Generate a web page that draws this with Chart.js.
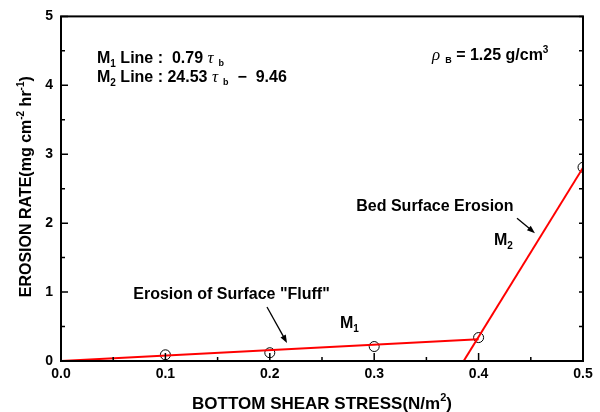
<!DOCTYPE html>
<html>
<head>
<meta charset="utf-8">
<script src="https://cdn.jsdelivr.net/npm/chart.js@4/dist/chart.umd.min.js"></script>
<style>
  html, body { margin: 0; padding: 0; background: #fff; }
  #wrap { width: 600px; height: 412px; }
</style>
</head>
<body>
<div id="wrap"><canvas id="c" width="600" height="412"></canvas></div>
<script>
// Measured erosion rates against bottom shear stress
const shearStress = [0.1, 0.2, 0.3, 0.4, 0.5];
const erosionRate = [0.09, 0.12, 0.21, 0.34, 2.81];

// Fitted lines: M1 = 0.79 τb,  M2 = 24.53 τb − 9.46
const m1Stress = [0.0, 0.4];
const m1Rate = [0.0, 0.316];
const m2Stress = [0.3857, 0.5];
const m2Rate = [0.0, 2.805];

// Axis tick values
const xTicks = [0.0, 0.1, 0.2, 0.3, 0.4, 0.5];
const xMinorTicks = [0.05, 0.15, 0.25, 0.35, 0.45];
const yTicks = [0, 1, 2, 3, 4, 5];
const yMinorTicks = [0.5, 1.5, 2.5, 3.5, 4.5];

const SANS = '"Liberation Sans", Arial, Helvetica, sans-serif';
const SERIF = '"Liberation Serif", "Times New Roman", serif';
const fB = (s) => `bold ${s}px ${SANS}`;
const fG = (s) => `italic ${s}px ${SERIF}`;

const toPts = (xs, ys) => xs.map((x, i) => ({ x, y: ys[i] }));

// Draw a row of text runs (for sub/superscripts)
function drawRuns(ctx, runs, x, y, align) {
  let total = 0;
  runs.forEach(r => { ctx.font = r.font; r.w = ctx.measureText(r.text).width; total += r.w; });
  let cx = align === 'center' ? x - total / 2 : x;
  ctx.textAlign = 'left';
  ctx.textBaseline = 'alphabetic';
  runs.forEach(r => {
    ctx.font = r.font;
    ctx.fillText(r.text, cx, y + (r.dy || 0));
    cx += r.w;
  });
}

function drawArrow(ctx, x1, y1, x2, y2) {
  const ang = Math.atan2(y2 - y1, x2 - x1);
  const head = 8, half = 3;
  ctx.strokeStyle = '#000';
  ctx.fillStyle = '#000';
  ctx.lineWidth = 1.3;
  ctx.beginPath();
  ctx.moveTo(x1, y1);
  ctx.lineTo(x2 - Math.cos(ang) * head * 0.8, y2 - Math.sin(ang) * head * 0.8);
  ctx.stroke();
  ctx.beginPath();
  ctx.moveTo(x2, y2);
  ctx.lineTo(x2 - head * Math.cos(ang) + half * Math.sin(ang), y2 - head * Math.sin(ang) - half * Math.cos(ang));
  ctx.lineTo(x2 - head * Math.cos(ang) - half * Math.sin(ang), y2 - head * Math.sin(ang) + half * Math.cos(ang));
  ctx.closePath();
  ctx.fill();
}

// Frame, inward ticks, annotations and axis titles
const decorPlugin = {
  id: 'decor',
  afterDatasetsDraw(chart) {
    const { ctx, chartArea: a, scales: { x, y } } = chart;
    ctx.save();
    ctx.strokeStyle = '#000';
    ctx.lineWidth = 2;
    ctx.strokeRect(a.left, a.top, a.right - a.left, a.bottom - a.top);

    ctx.lineWidth = 1.5;
    ctx.beginPath();
    // left axis: major and minor ticks pointing inward
    yTicks.forEach(v => { const p = y.getPixelForValue(v); ctx.moveTo(a.left, p); ctx.lineTo(a.left + 7, p); });
    yMinorTicks.forEach(v => { const p = y.getPixelForValue(v); ctx.moveTo(a.left, p); ctx.lineTo(a.left + 4, p); });
    // right axis
    yTicks.concat(yMinorTicks).forEach(v => { const p = y.getPixelForValue(v); ctx.moveTo(a.right, p); ctx.lineTo(a.right - 4, p); });
    // bottom axis
    xTicks.forEach(v => { const p = x.getPixelForValue(v); ctx.moveTo(p, a.bottom); ctx.lineTo(p, a.bottom - 8); });
    xMinorTicks.forEach(v => { const p = x.getPixelForValue(v); ctx.moveTo(p, a.bottom); ctx.lineTo(p, a.bottom - 4); });
    ctx.stroke();

    ctx.fillStyle = '#000';
    const X = v => x.getPixelForValue(v), Y = v => y.getPixelForValue(v);

    // fit equations
    drawRuns(ctx, [
      { text: 'M', font: fB(16) },
      { text: '1', font: fB(10), dy: 4 },
      { text: ' Line :  0.79 ', font: fB(16) },
      { text: 'τ', font: fG(17) },
      { text: '  b', font: fB(9), dy: 3 }
    ], X(0.0345), Y(4.319), 'left');
    drawRuns(ctx, [
      { text: 'M', font: fB(16) },
      { text: '2', font: fB(10), dy: 4 },
      { text: ' Line : 24.53 ', font: fB(16) },
      { text: 'τ', font: fG(17) },
      { text: '  b', font: fB(9), dy: 3 },
      { text: '  −  9.46', font: fB(16) }
    ], X(0.0345), Y(4.043), 'left');

    // bulk density
    drawRuns(ctx, [
      { text: 'ρ', font: fG(17) },
      { text: '  B', font: fB(9), dy: 3 },
      { text: ' = 1.25 g/cm', font: fB(16) },
      { text: '3', font: fB(10), dy: -7 }
    ], X(0.3554), Y(4.362), 'left');

    // line labels
    drawRuns(ctx, [{ text: 'M', font: fB(16) }, { text: '1', font: fB(10), dy: 4 }], X(0.2672), Y(0.478), 'left');
    drawRuns(ctx, [{ text: 'M', font: fB(16) }, { text: '2', font: fB(10), dy: 4 }], X(0.4147), Y(1.681), 'left');

    drawRuns(ctx, [{ text: 'Erosion of Surface "Fluff"', font: fB(16) }], X(0.1633), Y(0.899), 'center');
    drawArrow(ctx, X(0.1973), Y(0.783), X(0.2165), Y(0.261));
    drawRuns(ctx, [{ text: 'Bed Surface Erosion', font: fB(16) }], X(0.3582), Y(2.174), 'center');
    drawArrow(ctx, X(0.4368), Y(2.072), X(0.454), Y(1.855));

    // axis titles
    ctx.fillStyle = '#000';
    drawRuns(ctx, [
      { text: 'BOTTOM SHEAR STRESS(N/m', font: fB(17) },
      { text: '2', font: fB(11), dy: -8 },
      { text: ')', font: fB(17) }
    ], (a.left + a.right) / 2, 409, 'center');

    ctx.save();
    ctx.translate(31, (a.top + a.bottom) / 2 - 2);
    ctx.rotate(-Math.PI / 2);
    drawRuns(ctx, [
      { text: 'EROSION RATE(mg cm', font: fB(16) },
      { text: '-2', font: fB(10), dy: -7 },
      { text: ' hr', font: fB(16) },
      { text: '-1', font: fB(10), dy: -7 },
      { text: ')', font: fB(16) }
    ], 0, 0, 'center');
    ctx.restore();
    ctx.restore();
  }
};

new Chart(document.getElementById('c'), {
  type: 'scatter',
  data: {
    datasets: [
      {
        label: 'M1',
        data: toPts(m1Stress, m1Rate),
        showLine: true,
        borderColor: '#ff0000',
        borderWidth: 2,
        pointRadius: 0
      },
      {
        label: 'M2',
        data: toPts(m2Stress, m2Rate),
        showLine: true,
        borderColor: '#ff0000',
        borderWidth: 2,
        pointRadius: 0
      },
      {
        label: 'Measured',
        data: toPts(shearStress, erosionRate),
        pointStyle: 'circle',
        pointRadius: 5,
        borderColor: '#000',
        borderWidth: 1,
        backgroundColor: 'rgba(0,0,0,0)'
      }
    ]
  },
  options: {
    responsive: false,
    animation: false,
    devicePixelRatio: 1,
    layout: { padding: { top: 16, right: 17, left: 0, bottom: 0 } },
    plugins: { legend: { display: false }, tooltip: { enabled: false } },
    scales: {
      x: {
        type: 'linear',
        min: 0, max: 0.5,
        afterFit: s => { s.height = 51; },
        afterBuildTicks: s => { s.ticks = xTicks.map(v => ({ value: v })); },
        grid: { display: false, drawTicks: false },
        border: { display: false },
        ticks: {
          padding: 5,
          color: '#000',
          font: { family: SANS, size: 14, weight: 'bold' },
          maxRotation: 0,
          callback: v => Number(v).toFixed(1)
        }
      },
      y: {
        type: 'linear',
        min: 0, max: 5,
        afterFit: s => { s.width = 61; },
        afterBuildTicks: s => { s.ticks = yTicks.map(v => ({ value: v })); },
        grid: { display: false, drawTicks: false },
        border: { display: false },
        ticks: {
          padding: 8,
          color: '#000',
          font: { family: SANS, size: 14, weight: 'bold' },
          callback: v => String(v)
        }
      }
    }
  },
  plugins: [decorPlugin]
});
</script>
</body>
</html>
